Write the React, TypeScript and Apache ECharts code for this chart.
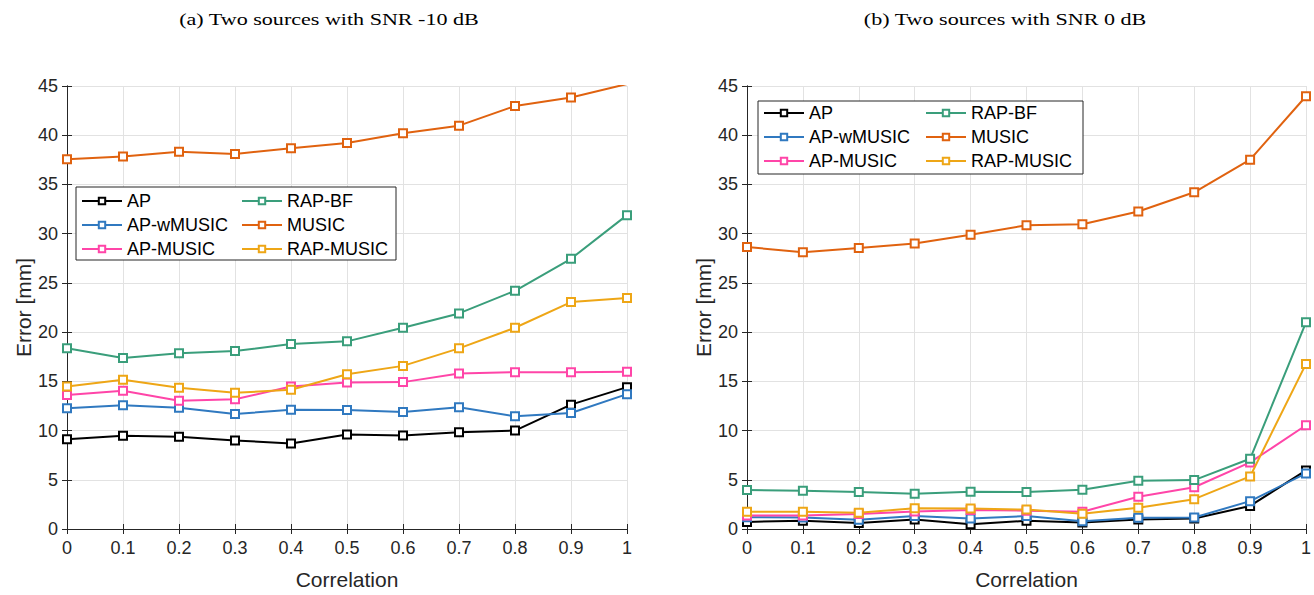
import React, { useEffect, useRef } from "react";
import * as echarts from "echarts";

const correlation = [0, 0.1, 0.2, 0.3, 0.4, 0.5, 0.6, 0.7, 0.8, 0.9, 1];
const seriesNames = ["AP", "AP-wMUSIC", "AP-MUSIC", "RAP-BF", "MUSIC", "RAP-MUSIC"];
const seriesColors = ["#000000", "#3079c0", "#ff45a8", "#3a9e7b", "#e0620f", "#eea616"];
const legendCol1 = ["AP", "AP-wMUSIC", "AP-MUSIC"];
const legendCol2 = ["RAP-BF", "MUSIC", "RAP-MUSIC"];
const titleA = "(a) Two sources with SNR -10 dB";
const titleB = "(b) Two sources with SNR 0 dB";

// (a) SNR -10 dB
const aAP = [9.12, 9.46, 9.36, 8.99, 8.69, 9.6, 9.49, 9.83, 10.0, 12.63, 14.41];
const aAPwMUSIC = [12.26, 12.56, 12.32, 11.68, 12.12, 12.09, 11.89, 12.36, 11.45, 11.78, 13.7];
const aAPMUSIC = [13.6, 14.04, 13.03, 13.17, 14.48, 14.88, 14.92, 15.79, 15.93, 15.93, 15.97];
const aRAPBF = [18.35, 17.37, 17.85, 18.08, 18.79, 19.06, 20.44, 21.9, 24.2, 27.45, 31.88];
const aMUSIC = [37.57, 37.83, 38.33, 38.1, 38.67, 39.2, 40.2, 40.97, 42.97, 43.83, 45.2];
const aRAPMUSIC = [14.48, 15.15, 14.34, 13.84, 14.14, 15.72, 16.57, 18.35, 20.44, 23.05, 23.46];

// (b) SNR 0 dB
const bAP = [0.72, 0.83, 0.62, 0.97, 0.48, 0.83, 0.66, 0.97, 1.07, 2.34, 5.95];
const bAPwMUSIC = [1.2, 1.17, 0.93, 1.31, 1.07, 1.31, 0.79, 1.14, 1.17, 2.83, 5.65];
const bAPMUSIC = [1.38, 1.38, 1.52, 1.79, 1.93, 1.86, 1.76, 3.28, 4.24, 6.76, 10.54];
const bRAPBF = [3.97, 3.89, 3.75, 3.58, 3.78, 3.75, 3.99, 4.9, 4.97, 7.13, 21.0];
const bMUSIC = [28.65, 28.11, 28.55, 28.99, 29.9, 30.85, 30.95, 32.25, 34.2, 37.52, 43.96];
const bRAPMUSIC = [1.76, 1.76, 1.66, 2.1, 2.07, 1.97, 1.55, 2.17, 3.03, 5.34, 16.77];

const panelA = [aAP, aAPwMUSIC, aAPMUSIC, aRAPBF, aMUSIC, aRAPMUSIC];
const panelB = [bAP, bAPwMUSIC, bAPMUSIC, bRAPBF, bMUSIC, bRAPMUSIC];

const SANS = "Liberation Sans";
const SERIF = "Liberation Serif";
const AXIS = "#262626";
const GRID = "#e2e2e2";

export default function App() {
  const ref = useRef<HTMLDivElement>(null);
  useEffect(() => {
    if (!ref.current) return;
    const chart = echarts.init(ref.current, undefined, { renderer: "svg" });

    const grids = [
      { left: 67, right: 687, top: 86, bottom: 62 },
      { left: 747, right: 7, top: 86, bottom: 62 },
    ];

    const xAxes: any[] = [];
    const yAxes: any[] = [];
    grids.forEach((_, gi) => {
      xAxes.push({
        type: "value",
        gridIndex: gi,
        min: 0,
        max: 1,
        interval: 0.1,
        position: "bottom",
        axisLine: { show: true, lineStyle: { color: AXIS, width: 1 } },
        axisTick: { show: true, inside: true, length: 5, lineStyle: { color: AXIS } },
        axisLabel: {
          fontSize: 18,
          fontFamily: SANS,
          color: AXIS,
          margin: 10,
          formatter: (v: number) => (v === 0 ? "0" : v === 1 ? "1" : v.toFixed(1)),
        },
        splitLine: { show: true, lineStyle: { color: GRID, width: 1 } },
        name: "Correlation",
        nameLocation: "middle",
        nameGap: 40,
        nameTextStyle: { fontSize: 21, fontFamily: SANS, color: AXIS },
      });
      xAxes.push({
        type: "value",
        gridIndex: gi,
        min: 0,
        max: 1,
        interval: 0.1,
        position: "top",
        axisLine: { show: true, lineStyle: { color: AXIS, width: 1 } },
        axisTick: { show: true, inside: true, length: 5, lineStyle: { color: AXIS } },
        axisLabel: { show: false },
        splitLine: { show: false },
      });
      yAxes.push({
        type: "value",
        gridIndex: gi,
        min: 0,
        max: 45,
        interval: 5,
        position: "left",
        axisLine: { show: true, lineStyle: { color: AXIS, width: 1 } },
        axisTick: { show: true, inside: true, length: 5, lineStyle: { color: AXIS } },
        axisLabel: { fontSize: 18, fontFamily: SANS, color: AXIS, margin: 9 },
        splitLine: { show: true, lineStyle: { color: GRID, width: 1 } },
        name: "Error [mm]",
        nameLocation: "middle",
        nameGap: 33,
        nameTextStyle: { fontSize: 21, fontFamily: SANS, color: AXIS },
      });
      yAxes.push({
        type: "value",
        gridIndex: gi,
        min: 0,
        max: 45,
        interval: 5,
        position: "right",
        axisLine: { show: true, lineStyle: { color: AXIS, width: 1 } },
        axisTick: { show: true, inside: true, length: 5, lineStyle: { color: AXIS } },
        axisLabel: { show: false },
        splitLine: { show: false },
      });
    });

    const series: any[] = [];
    [panelA, panelB].forEach((panel, gi) => {
      panel.forEach((vals, si) => {
        series.push({
          type: "line",
          name: seriesNames[si],
          xAxisIndex: gi * 2,
          yAxisIndex: gi * 2,
          data: correlation.map((c, i) => [c, vals[i]]),
          symbol: "emptyRect",
          symbolSize: 8,
          clip: true,
          lineStyle: { color: seriesColors[si], width: 2 },
          itemStyle: { color: seriesColors[si], borderWidth: 1.5 },
          z: 2 + si * 0.01,
        });
      });
    });

    const legendBase = {
      orient: "vertical",
      itemWidth: 40,
      itemHeight: 8,
      itemGap: 6,
      padding: 0,
      textStyle: { fontSize: 18, fontFamily: SANS, color: "#000", lineHeight: 18 },
      z: 5,
    };

    const legends = [
      { ...legendBase, data: legendCol1, left: 81, top: 192 },
      { ...legendBase, data: legendCol2, left: 241, top: 192 },
      { ...legendBase, data: legendCol1, left: 763, top: 104 },
      { ...legendBase, data: legendCol2, left: 925, top: 104 },
    ];

    const titleStyle = (text: string) => ({
      text,
      font: `16px "${SERIF}"`,
      fill: "#000",
      textAlign: "center",
      textVerticalAlign: "middle",
    });

    chart.setOption({
      animation: false,
      backgroundColor: "#ffffff",
      grid: grids,
      xAxis: xAxes,
      yAxis: yAxes,
      series,
      legend: legends,
      graphic: [
        {
          type: "rect",
          shape: { x: 76, y: 187, width: 320, height: 73 },
          style: { fill: "#fff", stroke: AXIS, lineWidth: 1 },
          z: 3,
        },
        {
          type: "rect",
          shape: { x: 758, y: 101, width: 325, height: 73 },
          style: { fill: "#fff", stroke: AXIS, lineWidth: 1 },
          z: 3,
        },
        {
          type: "text",
          x: 329,
          y: 20,
          scaleX: 1.38,
          style: titleStyle(titleA),
        },
        {
          type: "text",
          x: 1005,
          y: 20,
          scaleX: 1.38,
          style: titleStyle(titleB),
        },
      ],
    });
    return () => chart.dispose();
  }, []);
  return (
    <div
      ref={ref}
      style={{ position: "absolute", left: 0, top: 0, width: 1314, height: 595 }}
    />
  );
}
